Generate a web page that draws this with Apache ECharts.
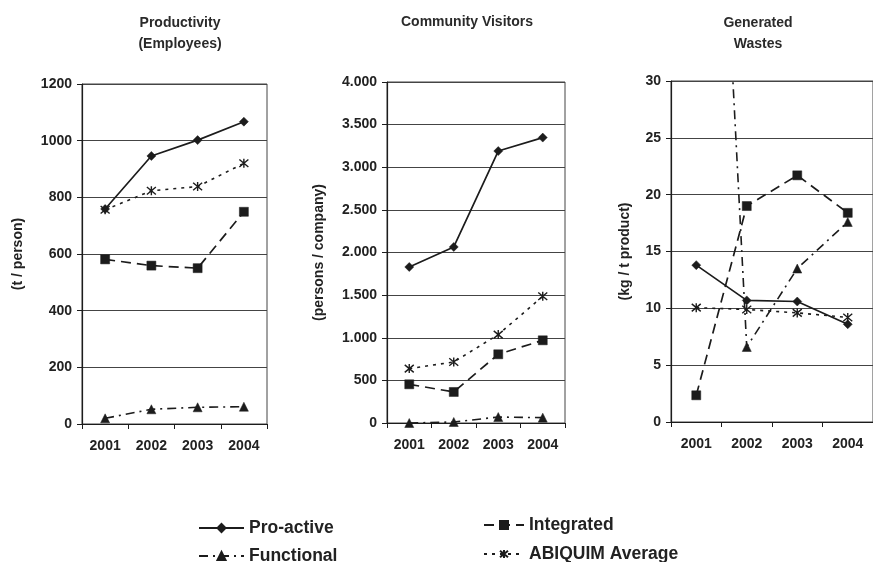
<!DOCTYPE html>
<html><head><meta charset="utf-8">
<script src="https://cdn.jsdelivr.net/npm/echarts@6/dist/echarts.min.js"></script>
<style>html,body{margin:0;padding:0;background:#fff}#c{width:873px;height:562px}</style>
</head><body><div id="c"></div>
<script>
var years = ['2001','2002','2003','2004'];
var seriesNames = ['Pro-active','Integrated','Functional','ABIQUIM Average'];
// Productivity (Employees), t / person
var prodProactive  = [759, 946, 1002, 1067];
var prodIntegrated = [581, 559, 550, 749];
var prodFunctional = [20, 52, 59, 61];
var prodAbiquim    = [756, 823, 838, 920];
// Community Visitors, persons / company
var visProactive  = [1830, 2065, 3190, 3348];
var visIntegrated = [454, 364, 806, 970];
var visFunctional = [0, 12, 70, 63];
var visAbiquim    = [638, 716, 1037, 1486];
// Generated Wastes, kg / t product
var wasProactive  = [13.8, 10.7, 10.6, 8.6];
var wasIntegrated = [2.35, 19.0, 21.7, 18.4];
var wasFunctional = [92, 6.6, 13.5, 17.6];
var wasAbiquim    = [10.06, 9.9, 9.6, 9.2];

var titles = ['Productivity\n(Employees)', 'Community Visitors', 'Generated\nWastes'];
var yNames = ['(t / person)', '(persons / company)', '(kg / t product)'];
var yMax = [1200, 4000, 30];
var yInt = [200, 500, 5];

var INK = '#1c1c1c';
var FONT = 'Liberation Sans, Arial, sans-serif';
var asterisk = 'path://M0,0L10,10M10,0L0,10M5,-1L5,11';

var grids = [
  {left: 82, top: 84, width: 185, height: 340},
  {left: 387, top: 82, width: 178, height: 341},
  {left: 671, top: 81, width: 204, height: 341}
];
var titlePos = [{x:175, y:8}, {x:462, y:7}, {x:753, y:8}];
var nameGaps = [57, 61, 39];

var panelData = [
  [prodProactive, prodIntegrated, prodFunctional, prodAbiquim],
  [visProactive, visIntegrated, visFunctional, visAbiquim],
  [wasProactive, wasIntegrated, wasFunctional, wasAbiquim]
];

function fmtThousands(v){
  return String(v).replace(/\B(?=(\d{3})+(?!\d))/g, '.');
}
function fmtPlain(v){ return String(v); }

var styles = [
  {symbol:'diamond', symbolSize:9, lineStyle:{type:'solid', width:1.7}},
  {symbol:'rect', symbolSize:9, lineStyle:{type:[10,6], width:1.7}},
  {symbol:'triangle', symbolSize:9, lineStyle:{type:[9,5,2,5], width:1.6}},
  {symbol:asterisk, symbolSize:9, lineStyle:{type:[3,5], width:1.6}, asterisk:true}
];

var legendPos = [
  {name:'Pro-active', left:198, top:519, w:45},
  {name:'Integrated', left:483, top:516, w:40},
  {name:'Functional', left:198, top:547, w:45},
  {name:'ABIQUIM Average', left:483, top:545, w:40}
];

var option = {
  backgroundColor:'#fff',
  animation:false,
  title: titles.map(function(t,i){
    return {text:t, left:titlePos[i].x, top:titlePos[i].y, textAlign:'center',
      textStyle:{fontFamily:FONT, fontSize:14, fontWeight:'bold', color:'#2a2a2a', lineHeight:21}};
  }),
  grid: grids.map(function(g){
    return {left:g.left, top:g.top, width:g.width, height:g.height, show:true,
      borderColor:'#444', borderWidth:1, backgroundColor:'transparent'};
  }),
  xAxis: grids.map(function(g,i){
    return {type:'category', gridIndex:i, data:years, boundaryGap:true,
      axisLine:{lineStyle:{color:INK, width:1.2}},
      axisTick:{show:true, length:5, lineStyle:{color:INK}},
      axisLabel:{fontFamily:FONT, fontSize:14, fontWeight:'bold', color:'#222', margin:15},
      splitLine:{show:false}};
  }),
  yAxis: grids.map(function(g,i){
    return {type:'value', gridIndex:i, min:0, max:yMax[i], interval:yInt[i],
      name:yNames[i], nameLocation:'middle', nameRotate:90, nameGap:nameGaps[i],
      nameTextStyle:{fontFamily:FONT, fontSize:14, fontWeight:'bold', color:'#222'},
      axisLine:{show:true, lineStyle:{color:INK, width:1.2}},
      axisTick:{show:true, length:5, lineStyle:{color:INK}},
      axisLabel:{fontFamily:FONT, fontSize:14, fontWeight:'bold', color:'#222', margin:10,
        formatter: i===1 ? fmtThousands : fmtPlain},
      splitLine:{show:true, lineStyle:{color:'#444', width:1}}};
  }),
  legend: legendPos.map(function(l){
    return {data:[l.name], orient:'horizontal', left:l.left, top:l.top, itemWidth:l.w, itemHeight:10,
      padding:0, textStyle:{fontFamily:FONT, fontSize:17.5, fontWeight:'bold', color:'#222'}};
  }),
  series: []
};

for (var p=0; p<3; p++){
  for (var s=0; s<4; s++){
    var st = styles[s];
    option.series.push({
      type:'line', name:seriesNames[s], xAxisIndex:p, yAxisIndex:p,
      data:panelData[p][s], symbol:st.symbol, symbolSize:st.symbolSize,
      showAllSymbol:true, clip:true, z: 3+s,
      lineStyle:{color:INK, width:st.lineStyle.width, type:st.lineStyle.type},
      itemStyle: st.asterisk ? {color:'rgba(0,0,0,0)', borderColor:INK, borderWidth:1.4}
                             : {color:INK, borderColor:INK, borderWidth:0.5}
    });
  }
}

var chart = echarts.init(document.getElementById('c'), null, {renderer:'canvas'});
chart.setOption(option);
</script>
</body></html>
